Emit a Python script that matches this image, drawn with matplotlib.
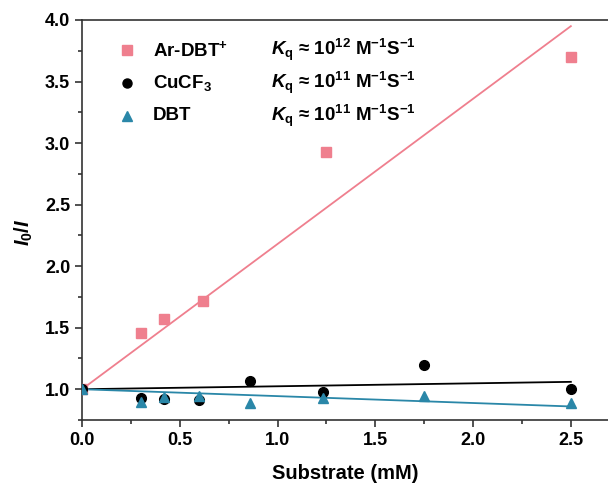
import numpy as np
import matplotlib
matplotlib.use('Agg')
import matplotlib.pyplot as plt
from matplotlib.ticker import MultipleLocator

plt.rcParams['font.family'] = ['Liberation Sans', 'DejaVu Sans']
plt.rcParams['font.weight'] = 'bold'
plt.rcParams['mathtext.fontset'] = 'custom'
plt.rcParams['mathtext.rm'] = 'Liberation Sans:bold'
plt.rcParams['mathtext.it'] = 'Liberation Sans:italic:bold'
plt.rcParams['mathtext.bf'] = 'Liberation Sans:bold'

# data
x_red = [0.0, 0.3, 0.42, 0.62, 1.25, 2.5]
y_red = [1.0, 1.46, 1.57, 1.72, 2.93, 3.70]
x_sub = [0.0, 0.3, 0.42, 0.6, 0.86, 1.23, 1.75, 2.5]
y_cucf3 = [1.0, 0.93, 0.92, 0.91, 1.065, 0.975, 1.20, 1.0]
y_dbt = [1.0, 0.90, 0.94, 0.945, 0.89, 0.93, 0.945, 0.89]

# linear fits (intercept 1)
fit_x = np.array([0.0, 2.5])
slope_red = 1.18
slope_cucf3 = 0.024
slope_dbt = -0.056

labels = ['Ar-DBT$^{+}$', 'CuCF$_{3}$', 'DBT']
kq_labels = [r'$\mathit{K}_{\mathrm{q}}$ ≈ 10$^{12}$ M$^{-1}$S$^{-1}$',
             r'$\mathit{K}_{\mathrm{q}}$ ≈ 10$^{11}$ M$^{-1}$S$^{-1}$',
             r'$\mathit{K}_{\mathrm{q}}$ ≈ 10$^{11}$ M$^{-1}$S$^{-1}$']

red = '#ef7f8e'
blue = '#2a87a8'

fig = plt.figure(figsize=(6.08, 4.86), dpi=100)
ax = fig.add_axes([82/608, 1-420/486, 1-82/608, 400/486])

ax.plot(fit_x, 1 + slope_red*fit_x, color=red, lw=1.3, zorder=2)
ax.plot(fit_x, 1 + slope_cucf3*fit_x, color='black', lw=1.3, zorder=2)
ax.plot(fit_x, 1 + slope_dbt*fit_x, color=blue, lw=1.3, zorder=2)

ax.plot(x_red, y_red, 's', color=red, ms=6.5, ls='none', zorder=3)
ax.plot(x_sub, y_cucf3, 'o', color='black', ms=7, ls='none', zorder=3)
ax.plot(x_sub, y_dbt, '^', color=blue, ms=7.5, ls='none', zorder=4)

ax.set_xlim(0, 2.69)
ax.set_ylim(0.75, 4.0)
ax.xaxis.set_major_locator(MultipleLocator(0.5))
ax.xaxis.set_minor_locator(MultipleLocator(0.25))
ax.yaxis.set_major_locator(MultipleLocator(0.5))
ax.yaxis.set_minor_locator(MultipleLocator(0.25))
ax.spines['right'].set_visible(False)
for s in ['left', 'bottom', 'top']:
    ax.spines[s].set_color('#333333')
    ax.spines[s].set_linewidth(1.2)
ax.tick_params(which='major', direction='out', length=5, width=1.2, labelsize=13, color='#333333')
ax.tick_params(which='minor', direction='out', length=3, width=1.2, color='#333333')
ax.tick_params(axis='x', top=False, which='both')

ax.set_xlabel('Substrate (mM)', fontsize=14.5, fontweight='bold', labelpad=11)
ax.set_ylabel(r'$\mathit{I}_{\mathit{0}}\mathit{/I}$', fontsize=14.5)
ax.yaxis.set_label_coords(-0.09, 0.47)

# legend drawn by hand: marker, name, Kq
markers = [('s', red, 6.5), ('o', 'black', 6.5), ('^', blue, 7.5)]
rows_y = [0.925, 0.843, 0.76]
for (m, c, ms), lab, kq, yy in zip(markers, labels, kq_labels, rows_y):
    ax.plot([0.085], [yy], m, color=c, ms=ms, transform=ax.transAxes, clip_on=False)
    ax.text(0.135, yy, lab, transform=ax.transAxes, va='center', ha='left', fontsize=13.5)
    ax.text(0.36, yy, kq, transform=ax.transAxes, va='center', ha='left', fontsize=13.5)

fig.savefig('out.png', dpi=100)
